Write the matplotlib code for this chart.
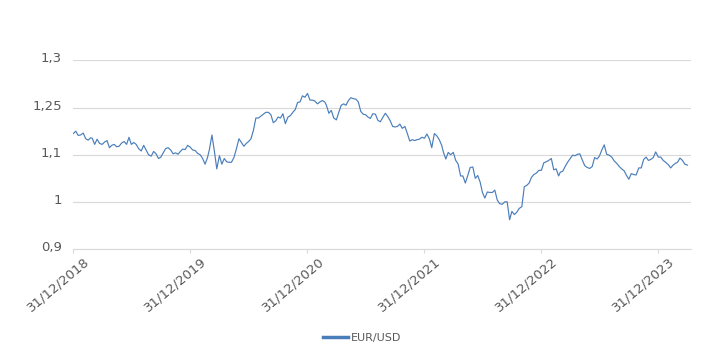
import matplotlib
matplotlib.use("Agg")
import matplotlib.pyplot as plt
import matplotlib.transforms as mtransforms
import pandas as pd

# EUR/USD, vier waarden per maand (gelezen uit de grafiek)
EURUSD_2019 = [1.145, 1.150, 1.141, 1.142, 1.146, 1.134, 1.131, 1.136,
               1.135, 1.122, 1.133, 1.124, 1.122, 1.127, 1.130, 1.115,
               1.120, 1.122, 1.117, 1.118, 1.125, 1.128, 1.122, 1.137,
               1.122, 1.126, 1.122, 1.113, 1.108, 1.120, 1.110, 1.100,
               1.097, 1.107, 1.102, 1.092, 1.095, 1.104, 1.113, 1.115,
               1.110, 1.102, 1.104, 1.101, 1.107, 1.112, 1.111, 1.120]
EURUSD_2020 = [1.116, 1.110, 1.109, 1.103, 1.100, 1.092, 1.080, 1.094,
               1.112, 1.142, 1.108, 1.070, 1.098, 1.080, 1.092, 1.085,
               1.084, 1.084, 1.094, 1.112, 1.134, 1.126, 1.118, 1.124,
               1.128, 1.134, 1.152, 1.178, 1.178, 1.182, 1.186, 1.190,
               1.190, 1.185, 1.168, 1.172, 1.180, 1.178, 1.187, 1.166,
               1.180, 1.183, 1.190, 1.196, 1.211, 1.212, 1.225, 1.222]
EURUSD_2021 = [1.230, 1.216, 1.216, 1.214, 1.208, 1.212, 1.215, 1.212,
               1.205, 1.188, 1.194, 1.178, 1.174, 1.190, 1.205, 1.208,
               1.205, 1.215, 1.221, 1.219, 1.218, 1.212, 1.192, 1.186,
               1.185, 1.180, 1.177, 1.187, 1.186, 1.173, 1.170, 1.179,
               1.188, 1.181, 1.172, 1.160, 1.159, 1.160, 1.165, 1.156,
               1.160, 1.145, 1.129, 1.132, 1.130, 1.132, 1.133, 1.137]
EURUSD_2022 = [1.135, 1.144, 1.134, 1.115, 1.145, 1.140, 1.132, 1.120,
               1.106, 1.091, 1.105, 1.100, 1.105, 1.088, 1.080, 1.055,
               1.055, 1.040, 1.056, 1.073, 1.074, 1.050, 1.056, 1.042,
               1.020, 1.008, 1.021, 1.020, 1.020, 1.025, 1.004, 0.996,
               0.995, 1.000, 1.000, 0.962, 0.980, 0.973, 0.978, 0.986,
               0.990, 1.032, 1.035, 1.040, 1.052, 1.058, 1.061, 1.067]
EURUSD_2023 = [1.067, 1.083, 1.085, 1.088, 1.092, 1.068, 1.070, 1.055,
               1.063, 1.065, 1.075, 1.084, 1.092, 1.099, 1.098, 1.101,
               1.102, 1.089, 1.077, 1.073, 1.071, 1.075, 1.094, 1.091,
               1.097, 1.110, 1.121, 1.101, 1.099, 1.095, 1.087, 1.082,
               1.075, 1.070, 1.066, 1.056, 1.048, 1.060, 1.058, 1.057,
               1.072, 1.072, 1.090, 1.095, 1.088, 1.090, 1.094, 1.106]
EURUSD_2024 = [1.095, 1.095, 1.088, 1.084, 1.079, 1.072, 1.078, 1.082,
               1.084, 1.093, 1.088, 1.080, 1.078]

Y_TICKS = [0.9, 1.0, 1.1, 1.2, 1.3]
Y_LABELS = ["0,9", "1", "1,1", "1,25", "1,3"]
X_TICKS = ["2018-12-31", "2019-12-31", "2020-12-31", "2021-12-31", "2022-12-31", "2023-12-31"]
SERIES = "EUR/USD"

values = EURUSD_2019 + EURUSD_2020 + EURUSD_2021 + EURUSD_2022 + EURUSD_2023 + EURUSD_2024
months = pd.date_range("2019-01-01", periods=len(values) // 4 + 1, freq="MS")
dates = [months[i // 4] + pd.Timedelta(days=(i % 4) * 7.6) for i in range(len(values))]

GRID = "#D9D9D9"
TXT = "#595959"

fig = plt.figure(figsize=(7.25, 3.59), dpi=100)
ax = fig.add_axes([0.1007, 0.3064, 0.8524, 0.5251])

ax.plot(dates, values, color="#4A7EBB", lw=0.85, label=SERIES)

ax.set_ylim(0.9, 1.3)
ax.set_yticks(Y_TICKS)
ax.set_yticklabels(Y_LABELS)
ax.set_xlim(pd.Timestamp("2018-12-31"), pd.Timestamp("2024-04-12"))
xt = [pd.Timestamp(d) for d in X_TICKS]
ax.set_xticks(xt)
ax.set_xticklabels([d.strftime("%d/%m/%Y") for d in xt])

ax.grid(axis="y", color=GRID, lw=0.8)
ax.set_axisbelow(True)
for s in ["top", "right", "left"]:
    ax.spines[s].set_visible(False)
ax.spines["bottom"].set_color(GRID)
ax.spines["bottom"].set_linewidth(0.8)

ax.tick_params(axis="x", length=3, width=0.8, color=GRID, pad=1,
               labelsize=9.5, labelcolor=TXT)
ax.tick_params(axis="y", length=0, pad=8, labelsize=9.5, labelcolor=TXT)

off_x = mtransforms.ScaledTranslation(0.15, -0.05, fig.dpi_scale_trans)
for lab in ax.get_xticklabels():
    lab.set_rotation(40)
    lab.set_ha("right")
    lab.set_va("center")
    lab.set_rotation_mode("anchor")
    lab.set_transform(lab.get_transform() + off_x)

off_y = mtransforms.ScaledTranslation(0, 0.03, fig.dpi_scale_trans)
for lab in ax.get_yticklabels():
    lab.set_transform(lab.get_transform() + off_y)

leg = fig.legend(loc="center", bbox_to_anchor=(0.5, 0.0585), frameon=False,
                 fontsize=8, handlelength=2.2, handletextpad=0.3, labelcolor=TXT)
leg.get_lines()[0].set_linewidth(2.5)

fig.savefig("out.png", dpi=100)
